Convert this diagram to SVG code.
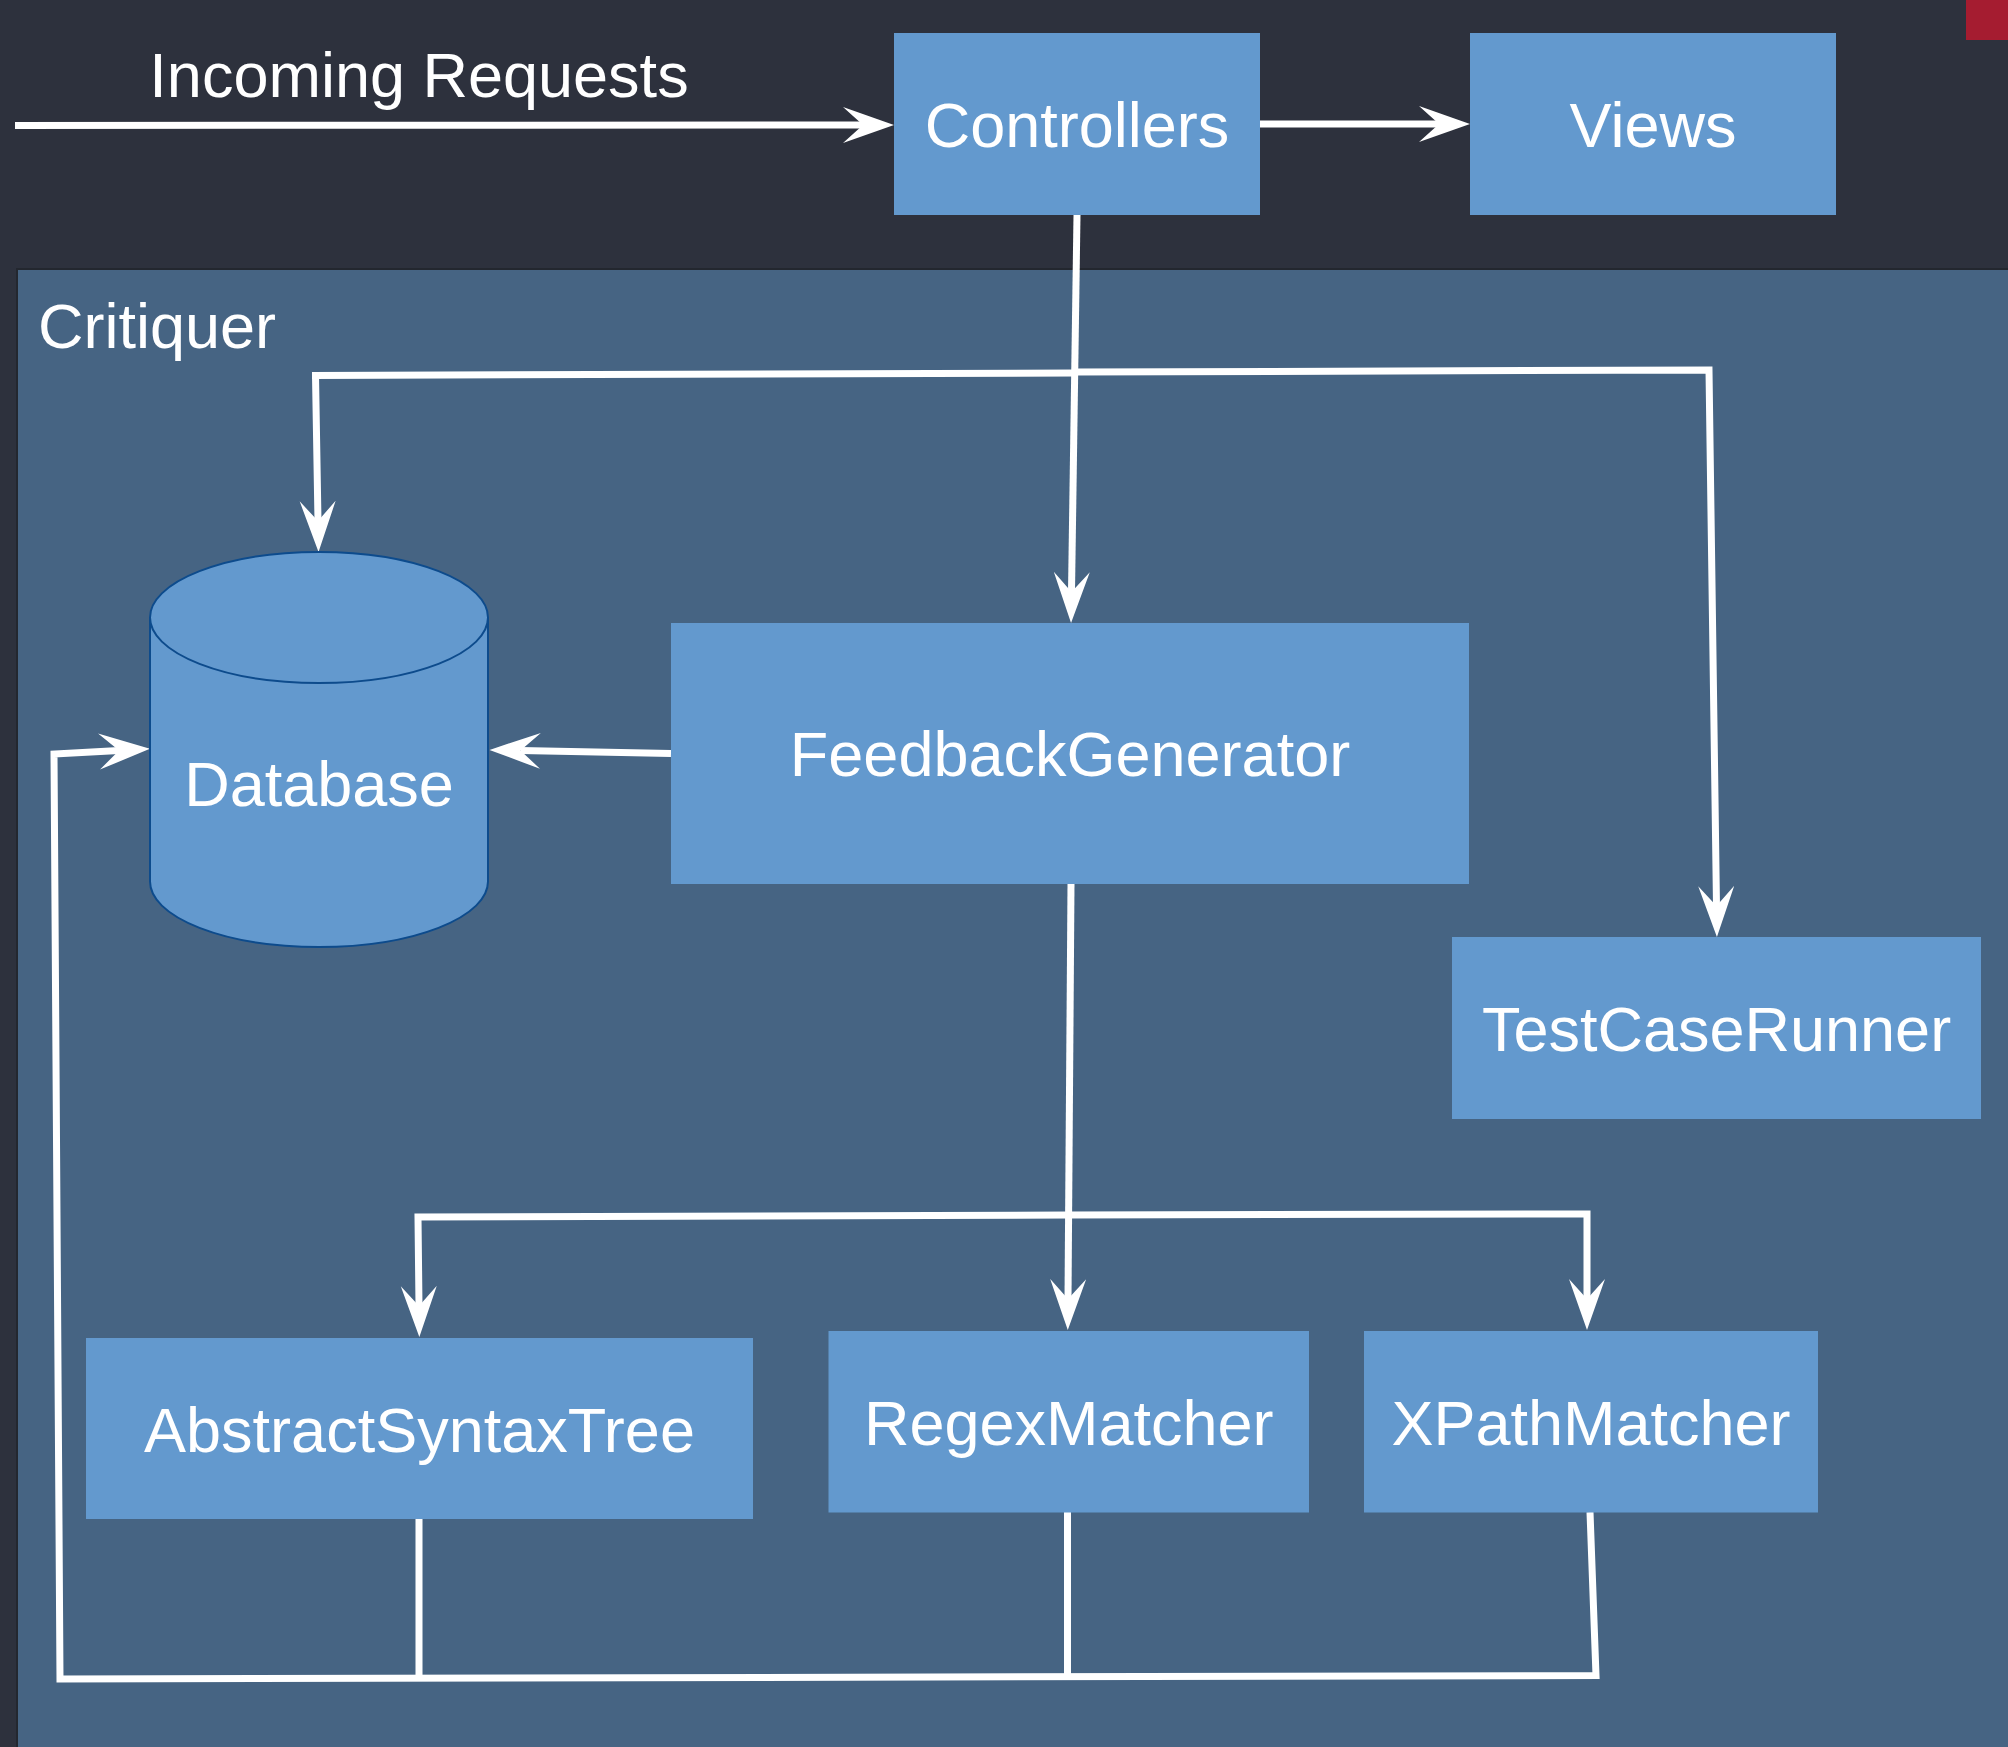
<svg xmlns="http://www.w3.org/2000/svg" width="2008" height="1747" viewBox="0 0 2008 1747">
<style>
.node{fill:#6399ce;}
.lbl{font-family:"Liberation Sans",Arial,sans-serif;font-size:63px;fill:#ffffff;text-anchor:middle;}
.edge{fill:none;stroke:#ffffff;stroke-width:7;stroke-linejoin:miter;}
</style>
<defs>
<marker id="arr" markerUnits="userSpaceOnUse" markerWidth="52" markerHeight="38" refX="20" refY="19" orient="auto" viewBox="0 0 52 38">
<path d="M0,1 L51,19 L0,37 L20,19 Z" fill="#ffffff"/>
</marker>
</defs>
<rect x="0" y="0" width="2008" height="1747" fill="#2d313d"/>
<rect x="1966" y="0" width="42" height="40" fill="#a51c30"/>
<g id="critiquer">
<rect x="17" y="269" width="2000" height="1490" fill="#466483" stroke="#23272f" stroke-width="2"/>
<text x="38" y="348" style="font-family:'Liberation Sans',Arial,sans-serif;font-size:63px;fill:#ffffff;">Critiquer</text>
</g>
<g id="connectors">
<path class="edge" d="M15,125.5 L863,125" marker-end="url(#arr)"/>
<text class="lbl" x="419" y="97">Incoming Requests</text>
<path class="edge" d="M1260,124 L1439,124" marker-end="url(#arr)"/>
<path class="edge" d="M1077,215 L1071.5,592" marker-end="url(#arr)"/>
<path class="edge" d="M1075,373 L312,375.5 L315.5,375.5 L318,521" marker-end="url(#arr)"/>
<path class="edge" d="M1075,372 L1709,370 L1716.5,906" marker-end="url(#arr)"/>
<path class="edge" d="M671,753.5 L520.5,750.5" marker-end="url(#arr)"/>
<path class="edge" d="M1071,884 L1068,1299" marker-end="url(#arr)"/>
<path class="edge" d="M1068,1215 L418,1217 L419,1306" marker-end="url(#arr)"/>
<path class="edge" d="M1068,1215 L1587,1214 L1587,1299" marker-end="url(#arr)"/>
<path class="edge" d="M419,1519 L419,1677"/>
<path class="edge" d="M1067.5,1512 L1067.5,1674"/>
<path class="edge" d="M1590,1512 L1596,1675.5 L60,1679 L54,754 L119,750.5" marker-end="url(#arr)"/>
</g>
<g id="Controllers">
<rect class="node" x="894" y="33" width="366" height="182"/>
<text class="lbl" x="1077" y="147">Controllers</text>
</g>
<g id="Views">
<rect class="node" x="1470" y="33" width="366" height="182"/>
<text class="lbl" x="1653" y="147">Views</text>
</g>
<g id="Database">
<path d="M150,617.5 A169,65.5 0 0 1 488,617.5 L488,881.5 A169,65.5 0 0 1 150,881.5 Z" fill="#6399ce" stroke="#0d4b8c" stroke-width="2"/>
<path d="M150,617.5 A169,65.5 0 0 0 488,617.5" fill="none" stroke="#0d4b8c" stroke-width="2"/>
<text class="lbl" x="319" y="806">Database</text>
</g>
<g id="FeedbackGenerator">
<rect class="node" x="671" y="623" width="798" height="261"/>
<text class="lbl" x="1070" y="776">FeedbackGenerator</text>
</g>
<g id="TestCaseRunner">
<rect class="node" x="1452" y="937" width="529" height="182"/>
<text class="lbl" x="1716.5" y="1051">TestCaseRunner</text>
</g>
<g id="AbstractSyntaxTree">
<rect class="node" x="86" y="1338" width="667" height="181"/>
<text class="lbl" x="419.5" y="1452">AbstractSyntaxTree</text>
</g>
<g id="RegexMatcher">
<rect class="node" x="828.5" y="1331" width="480.5" height="181.5"/>
<text class="lbl" x="1068.75" y="1445">RegexMatcher</text>
</g>
<g id="XPathMatcher">
<rect class="node" x="1364" y="1331" width="454" height="181.5"/>
<text class="lbl" x="1591" y="1445">XPathMatcher</text>
</g>
</svg>
